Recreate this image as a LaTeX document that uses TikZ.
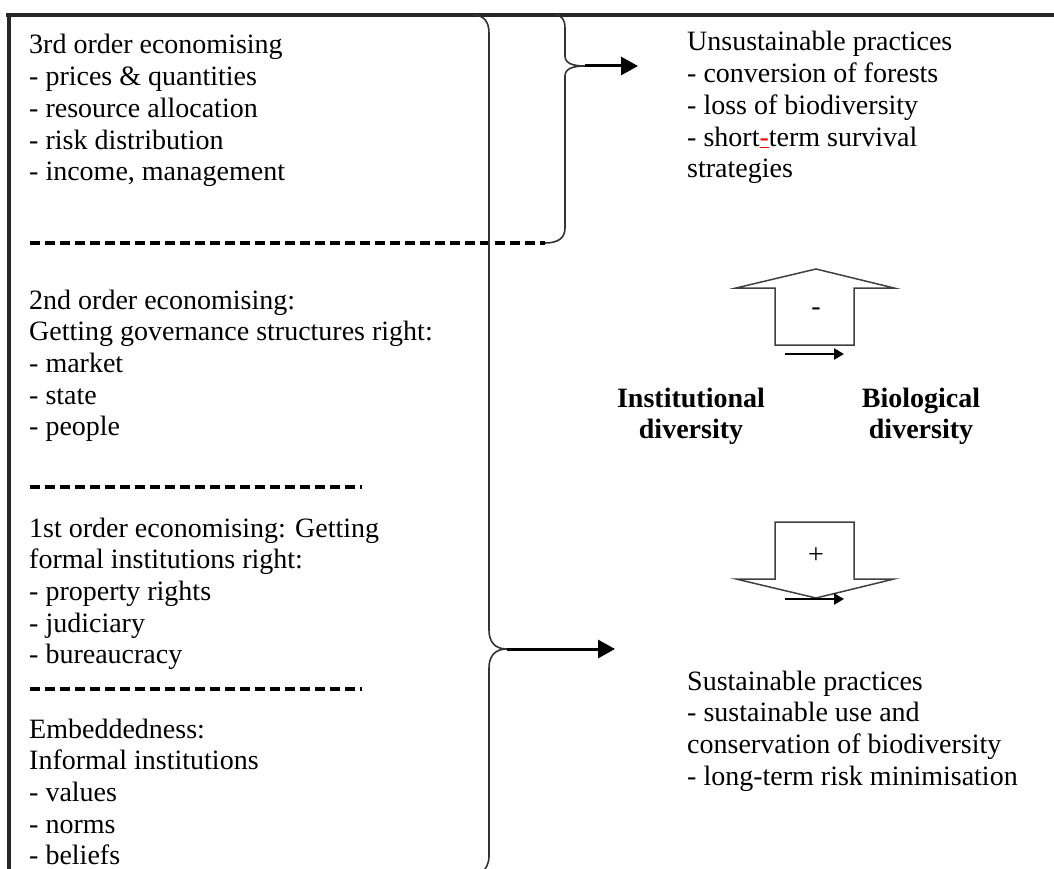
\documentclass[tikz,border=0pt]{standalone}
\usepackage{fontspec}
\setmainfont{Liberation Serif}
\usetikzlibrary{arrows.meta}
% one left-aligned / centred column whose base is the first line
\newcommand{\blocklines}[1]{\begin{tabular}[t]{@{}l@{}}#1\end{tabular}}
\newcommand{\centerlines}[1]{\begin{tabular}[t]{@{}c@{}}#1\end{tabular}}

\begin{document}
\begin{tikzpicture}[x=1pt,y=-1pt,
  txt/.style={anchor=base west, inner sep=0pt, font=\fontsize{28}{31.7}\selectfont},
  boldtxt/.style={anchor=base, inner sep=0pt, font=\fontsize{28}{31.7}\selectfont\bfseries},
  frameline/.style={line width=4pt, draw=black!85},
  brace/.style={line width=1.6pt, draw=black!80},
  sepline/.style={line width=3.2pt, dash pattern=on 10pt off 5pt},
  bigarrow/.style={line width=3pt, -{Triangle[length=17pt,width=18pt]}},
  blockarrow/.style={line width=1.5pt, draw=black!75, fill=white},
  smallarrow/.style={line width=2.4pt, -{Triangle[length=10pt,width=11pt]}},
  sign/.style={inner sep=0pt, font=\fontsize{28}{31.7}\selectfont}
]
\useasboundingbox (0,0) rectangle (1054,869);

% outer frame (top and left edges)
\draw[frameline] (6,15) -- (1054,15);
\draw[frameline] (9,13) -- (9,869);

% left column: levels of economising
\node[txt] (third) at (29,54) {\blocklines{3rd order economising\\
  - prices \& quantities\\ - resource allocation\\ - risk distribution\\
  - income, management}};
\node[txt] (second) at (29,309) {\blocklines{2nd order economising:\\
  Getting governance structures right:\\ - market\\ - state\\ - people}};
\node[txt] (first) at (29,537) {\blocklines{1st order economising: Getting\\
  formal institutions right:\\ - property rights\\ - judiciary\\ - bureaucracy}};
\node[txt] (embed) at (29,738) {\blocklines{Embeddedness:\\
  Informal institutions\\ - values\\ - norms\\ - beliefs}};

% dashed separators
\coordinate (sepA) at (30,243);
\coordinate (sepB1) at (30,487);
\coordinate (sepB2) at (362,487);
\coordinate (sepC1) at (30,689);
\coordinate (sepC2) at (362,689);
\coordinate (braceAend) at (545,243);
\draw[sepline] (sepA) -- (braceAend);
\draw[sepline] (sepB1) -- (sepB2);
\draw[sepline] (sepC1) -- (sepC2);

% small brace around the 3rd order block
\coordinate (tipA) at (585,66);
\draw[brace] (555,15) .. controls (562,15) and (565,20) .. (565,28)
  -- (565,56) .. controls (565,63) and (572,66) .. (tipA)
  .. controls (572,66) and (565,69) .. (565,76)
  -- (565,228) .. controls (565,238) and (558,243) .. (braceAend);

% tall brace around all levels
\coordinate (tipB) at (507,649);
\draw[brace] (473,15) .. controls (484,15) and (489,22) .. (489,33)
  -- (489,630) .. controls (489,642) and (495,649) .. (tipB)
  .. controls (495,649) and (489,656) .. (489,668)
  -- (489,856) .. controls (489,864) and (486,868) .. (482,873);

% right column: outcomes
\node[txt] (unsust) at (687,51) {\blocklines{Unsustainable practices\\
  - conversion of forests\\ - loss of biodiversity\\
  - short\textcolor{red}{\underline{-}}term survival\\ strategies}};
\node[txt] (sust) at (687,690) {\blocklines{Sustainable practices\\
  - sustainable use and\\ conservation of biodiversity\\
  - long-term risk minimisation}};

\coordinate (endA) at (638,66);
\coordinate (endB) at (615,649);
\draw[bigarrow] (tipA) -- (endA);
\draw[bigarrow] (tipB) -- (endB);

% diversity labels
\node[boldtxt] (inst) at (691,407) {\centerlines{Institutional\\ diversity}};
\node[boldtxt] (bio) at (921,407) {\centerlines{Biological\\ diversity}};

% block arrow pointing up (negative link)
\draw[blockarrow] (775,345) -- (775,288) -- (736,288) -- (816,269)
  -- (894,288) -- (854,288) -- (854,345) -- cycle;
\node[sign] (minus) at (816,312) {-};
\coordinate (upL) at (785,354);
\coordinate (upR) at (844,354);
\draw[smallarrow] (upL) -- (upR);

% block arrow pointing down (positive link)
\draw[blockarrow] (775,522) -- (775,579) -- (736,579) -- (816,598)
  -- (894,579) -- (854,579) -- (854,522) -- cycle;
\node[sign] (plus) at (816,556) {+};
\coordinate (dnL) at (785,599);
\coordinate (dnR) at (844,599);
\draw[smallarrow] (dnL) -- (dnR);

\end{tikzpicture}
\end{document}
